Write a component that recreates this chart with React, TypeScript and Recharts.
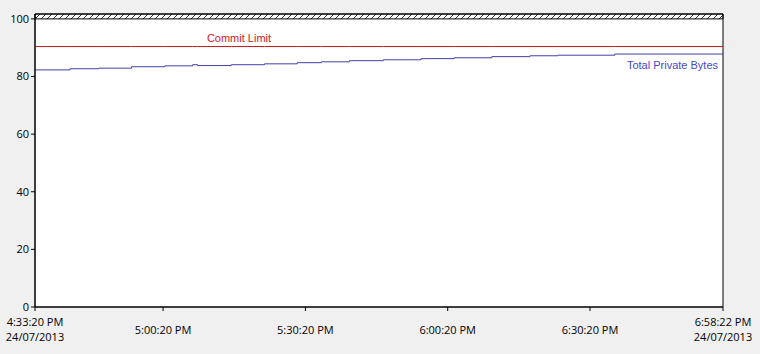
import React from 'react';
import {
  LineChart, Line, XAxis, YAxis, ReferenceArea, ReferenceDot,
} from 'recharts';

// sample times (24h clock) and values
const sampleTimes = [
  '16:33:20', '16:40:42', '16:46:48', '16:53:41', '17:00:41', '17:06:34', '17:07:38',
  '17:14:43', '17:21:43', '17:28:36', '17:33:43', '17:39:36', '17:46:46', '17:54:42',
  '18:01:42', '18:09:38', '18:17:41', '18:23:34', '18:35:34', '18:58:22',
];
const privateBytes = [
  82.3, 82.7, 82.9, 83.4, 83.7, 84.1, 83.8,
  84.1, 84.4, 84.8, 85.1, 85.5, 85.8, 86.2,
  86.5, 86.9, 87.2, 87.4, 87.8, 87.8,
];
const commitLimit = 90.4;
const tickTimes = ['16:33:20', '17:00:20', '17:30:20', '18:00:20', '18:30:20', '18:58:22'];
const yTicks = [0, 20, 40, 60, 80, 100];
const dateLabel = '24/07/2013';
const yMax = 101.7;

const toSec = (t: string) => {
  const [h, m, s] = t.split(':').map(Number);
  return h * 3600 + m * 60 + s;
};

const fmt12 = (sec: number) => {
  const h = Math.floor(sec / 3600);
  const m = Math.floor((sec % 3600) / 60);
  const s = sec % 60;
  const h12 = h % 12 === 0 ? 12 : h % 12;
  return `${h12}:${String(m).padStart(2, '0')}:${String(s).padStart(2, '0')} ${h >= 12 ? 'PM' : 'AM'}`;
};

const data = sampleTimes.map((t, i) => ({ t: toSec(t), bytes: privateBytes[i], commit: commitLimit }));
const ticks = tickTimes.map(toSec);
const tStart = ticks[0];
const tEnd = ticks[ticks.length - 1];

const FONT = '"Open Sans", sans-serif';

function TimeTick({ x, y, payload }: any) {
  const edge = payload.value === tStart || payload.value === tEnd;
  if (edge) {
    return (
      <text x={x} y={y} textAnchor="middle" fontFamily={FONT} fontSize={11} fill="#000">
        <tspan x={x} dy={13}>{fmt12(payload.value)}</tspan>
        <tspan x={x} dy={15}>{dateLabel}</tspan>
      </text>
    );
  }
  return (
    <text x={x} y={y + 21} textAnchor="middle" fontFamily={FONT} fontSize={11} fill="#000">
      {fmt12(payload.value)}
    </text>
  );
}

export default function App() {
  return (
    <div style={{ position: 'fixed', left: 0, top: 0, width: 760, height: 354, background: '#f0f0f0' }}>
      <LineChart width={760} height={354} data={data} margin={{ top: 14, right: 37, bottom: 0, left: 0 }}>
        <defs>
          <pattern id="hatch" width="6" height="6" patternUnits="userSpaceOnUse">
            <rect width="6" height="6" fill="#fff" />
            <path d="M0,6 L6,0" stroke="#000" strokeWidth={0.8} />
          </pattern>
        </defs>
        <ReferenceArea x1={tStart} x2={tEnd} y1={0} y2={yMax} fill="#fff" fillOpacity={1} stroke="none" />
        <ReferenceArea x1={tStart} x2={tEnd} y1={100} y2={yMax} fill="url(#hatch)" fillOpacity={1} stroke="#000" />
        <XAxis
          dataKey="t" type="number" domain={[tStart, tEnd]} ticks={ticks} height={47}
          tick={<TimeTick />} tickSize={4} axisLine={{ stroke: '#000' }} tickLine={{ stroke: '#000' }}
          interval={0} allowDataOverflow
        />
        <YAxis
          domain={[0, yMax]} ticks={yTicks} width={35} tickSize={4}
          tick={{ fill: '#000', fontSize: 11, fontFamily: FONT }}
          axisLine={{ stroke: '#000' }} tickLine={{ stroke: '#000' }} allowDataOverflow
        />
        <Line type="stepAfter" dataKey="commit" stroke="#c01818" strokeWidth={1} dot={false} isAnimationActive={false} />
        <Line type="stepAfter" dataKey="bytes" stroke="#4040a8" strokeWidth={1} dot={false} isAnimationActive={false} />
        <ReferenceArea x1={tStart} x2={tEnd} y1={0} y2={yMax} fill="none" stroke="#000" strokeWidth={1} />
        <ReferenceDot
          x={toSec('17:16:20')} y={commitLimit} r={0} stroke="none" fill="none"
          label={(p: any) => (
            <text x={p.viewBox.x} y={p.viewBox.y - 5} textAnchor="middle"
              fontFamily='"Liberation Sans", Arial, sans-serif' fontSize={11} fill="#d42020">Commit Limit</text>
          )}
        />
        <ReferenceDot
          x={tEnd} y={privateBytes[privateBytes.length - 1]} r={0} stroke="none" fill="none"
          label={(p: any) => (
            <text x={p.viewBox.x - 5} y={p.viewBox.y + 15} textAnchor="end"
              fontFamily='"Liberation Sans", Arial, sans-serif' fontSize={11} fill="#4848c8">Total Private Bytes</text>
          )}
        />
      </LineChart>
    </div>
  );
}
